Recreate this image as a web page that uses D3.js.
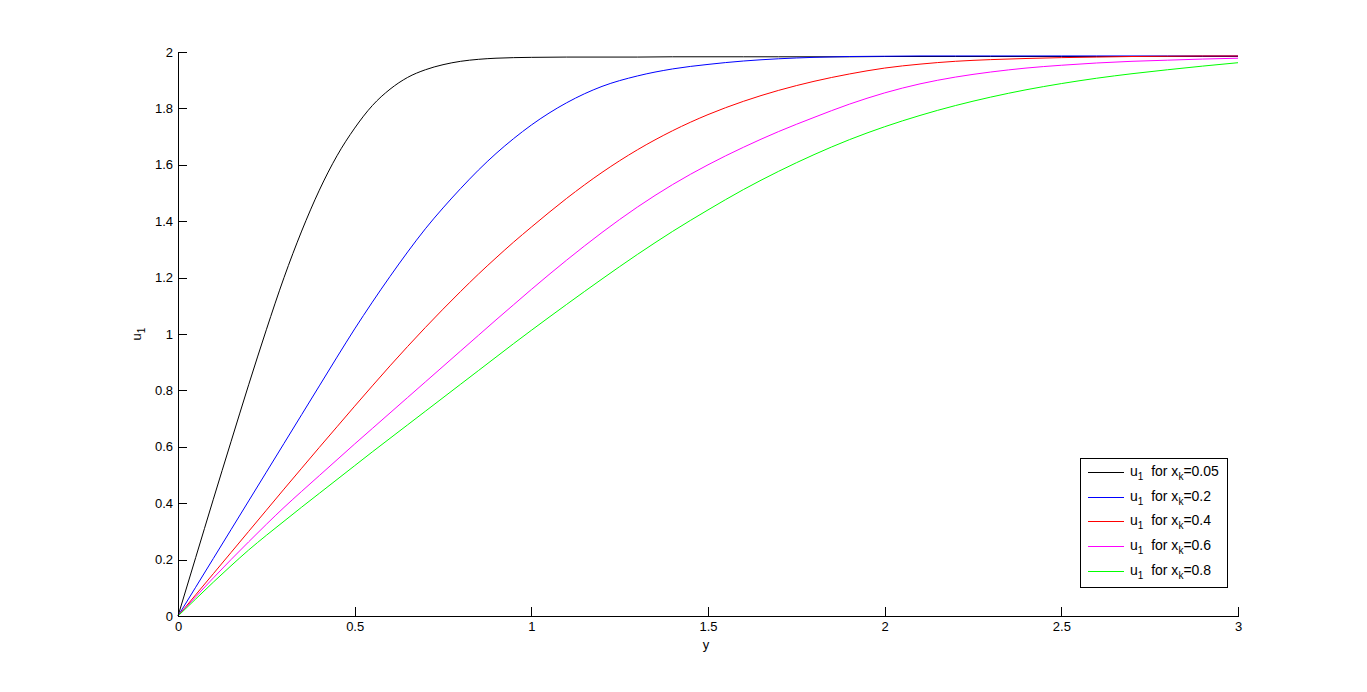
<!DOCTYPE html>
<html>
<head>
<meta charset="utf-8">
<script src="https://cdn.jsdelivr.net/npm/d3@7"></script>
<style>
  html, body { margin: 0; padding: 0; background: #fff; }
  svg { display: block; }
  text { font-family: "Liberation Sans", Arial, sans-serif; fill: #000; }
</style>
</head>
<body>
<svg id="chart" width="1367" height="692"></svg>
<script>
// ---- data ----
const yGrid = [0,0.05,0.1,0.15,0.2,0.25,0.3,0.35,0.4,0.45,0.5,0.55,0.6,0.65,0.7,0.75,0.8,0.85,0.9,0.95,1.0,
  1.1,1.2,1.3,1.4,1.5,1.6,1.7,1.8,1.9,2.0,2.1,2.2,2.3,2.4,2.5,2.6,2.7,2.8,2.9,3.0];

const u_xk005 = [0,0.207,0.414,0.618,0.82,1.015,1.2,1.365,1.51,1.632,1.73,1.81,1.868,1.91,1.937,1.955,1.967,1.974,1.978,1.980,1.981,
  1.982,1.982,1.982,1.983,1.983,1.983,1.983,1.983,1.983,1.984,1.984,1.984,1.984,1.984,1.984,1.984,1.984,1.984,1.984,1.984];
const u_xk02 = [0,0.102,0.204,0.306,0.408,0.51,0.612,0.714,0.816,0.918,1.018,1.113,1.204,1.291,1.373,1.447,1.516,1.581,1.64,1.693,1.741,
  1.82,1.878,1.915,1.94,1.956,1.968,1.976,1.981,1.984,1.985,1.986,1.986,1.986,1.986,1.986,1.986,1.986,1.986,1.986,1.986];
const u_xk04 = [0,0.075,0.15,0.225,0.30,0.375,0.45,0.524,0.598,0.671,0.744,0.816,0.887,0.956,1.023,1.088,1.151,1.212,1.27,1.326,1.379,
  1.481,1.573,1.653,1.721,1.778,1.825,1.864,1.896,1.922,1.943,1.957,1.967,1.973,1.977,1.98,1.982,1.984,1.985,1.986,1.986];
const u_xk06 = [0,0.068,0.135,0.2,0.263,0.325,0.385,0.442,0.498,0.554,0.61,0.665,0.72,0.775,0.83,0.885,0.94,0.995,1.05,1.104,1.158,
  1.262,1.36,1.45,1.53,1.60,1.662,1.718,1.768,1.815,1.855,1.887,1.911,1.929,1.943,1.953,1.961,1.967,1.971,1.975,1.978];
const u_xk08 = [0,0.06,0.12,0.178,0.234,0.286,0.336,0.386,0.435,0.484,0.533,0.582,0.63,0.678,0.726,0.774,0.822,0.87,0.918,0.966,1.013,
  1.105,1.195,1.282,1.364,1.44,1.512,1.577,1.636,1.689,1.735,1.775,1.81,1.84,1.866,1.888,1.907,1.923,1.937,1.95,1.962];

const seriesNames = ["0.05","0.2","0.4","0.6","0.8"];
const seriesValues = [u_xk005, u_xk02, u_xk04, u_xk06, u_xk08];
const seriesColors = ["#000000","#0000ff","#ff0000","#ff00ff","#00ff00"];

const xTicks = [0,0.5,1,1.5,2,2.5,3];
const yTicks = [0,0.2,0.4,0.6,0.8,1,1.2,1.4,1.6,1.8,2];

// ---- layout ----
const svg = d3.select("#chart");
const mLeft = 178, mRight = 1238, mTop = 52, mBottom = 616;

const x = d3.scaleLinear().domain([0,3]).range([mLeft, mRight]);
const y = d3.scaleLinear().domain([0,2]).range([mBottom, mTop]);

// curves
const line = d3.line()
  .x(d => x(d[0]))
  .y(d => y(d[1]))
  .curve(d3.curveMonotoneX);

const plot = svg.append("g");
seriesValues.forEach((vals, i) => {
  const pts = yGrid.map((g, j) => [g, vals[j]]);
  plot.append("path")
    .datum(pts)
    .attr("fill", "none")
    .attr("stroke", seriesColors[i])
    .attr("stroke-width", 1)
    .attr("d", line);
});

// axes (ticks inward)
const fmt = d => String(d);
const xAxis = d3.axisBottom(x).tickValues(xTicks).tickFormat(fmt).tickSizeInner(-9).tickSizeOuter(0).tickPadding(14);
const yAxis = d3.axisLeft(y).tickValues(yTicks).tickFormat(fmt).tickSizeInner(-9).tickSizeOuter(0).tickPadding(14);

const gx = svg.append("g").attr("transform", `translate(0,${mBottom})`).call(xAxis);
const gy = svg.append("g").attr("transform", `translate(${mLeft},0)`).call(yAxis);
[gx, gy].forEach(g => {
  g.selectAll("path.domain").attr("stroke", "#000").attr("stroke-width", 1).attr("shape-rendering", "crispEdges");
  g.selectAll(".tick line").attr("stroke", "#000").attr("shape-rendering", "crispEdges");
  g.selectAll("text").attr("font-size", 13).attr("font-family", "Liberation Sans, Arial, sans-serif").attr("fill", "#000");
});
gx.selectAll(".tick text").attr("dy", "0.71em").attr("y", 6);
gy.selectAll(".tick text").attr("x", -5);

// axis labels
svg.append("text")
  .attr("x", 706).attr("y", 649)
  .attr("text-anchor", "middle")
  .attr("font-size", 13)
  .text("y");

const ylab = svg.append("text")
  .attr("transform", "translate(141,334) rotate(-90)")
  .attr("text-anchor", "middle")
  .attr("font-size", 13);
ylab.append("tspan").text("u");
ylab.append("tspan").attr("font-size", 10).attr("dy", 4).text("1");

// legend
const lgX = 1080, lgY = 458, lgW = 147, lgH = 129;
const lg = svg.append("g");
lg.append("rect")
  .attr("x", lgX + 0.5).attr("y", lgY + 0.5)
  .attr("width", lgW).attr("height", lgH)
  .attr("fill", "#fff").attr("stroke", "#000").attr("stroke-width", 1)
  .attr("shape-rendering", "crispEdges");

seriesNames.forEach((n, i) => {
  const ry = 472 + i * 24.7;
  lg.append("line")
    .attr("x1", lgX + 8).attr("x2", lgX + 44)
    .attr("y1", Math.round(ry) + 0.5).attr("y2", Math.round(ry) + 0.5)
    .attr("stroke", seriesColors[i]).attr("stroke-width", 1)
    .attr("shape-rendering", "crispEdges");
  const t = lg.append("text")
    .attr("x", lgX + 50).attr("y", ry + 4)
    .attr("font-size", 14);
  t.append("tspan").text("u");
  t.append("tspan").attr("font-size", 10).attr("dy", 4).text("1");
  t.append("tspan").attr("dy", -4).text("\u00a0 for x");
  t.append("tspan").attr("font-size", 10).attr("dy", 4).text("k");
  t.append("tspan").attr("dy", -4).text("=" + n);
});
</script>
</body>
</html>
